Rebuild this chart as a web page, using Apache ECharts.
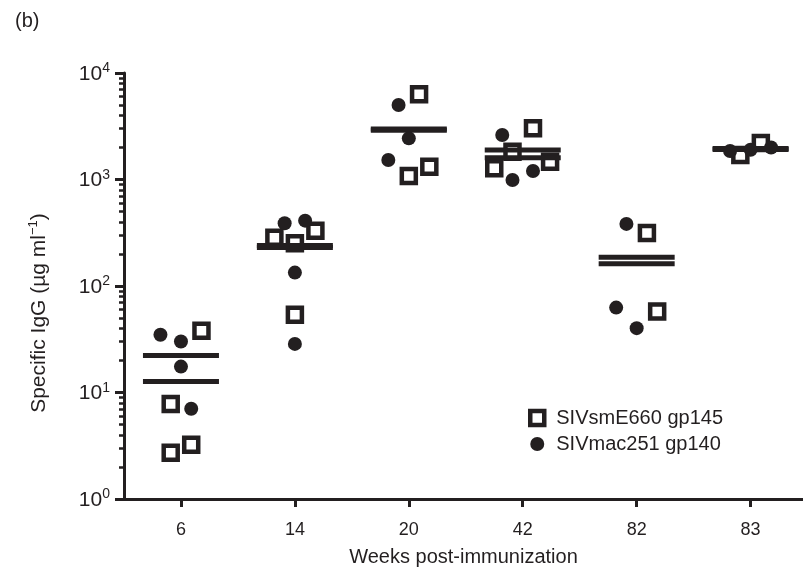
<!DOCTYPE html>
<html>
<head>
<meta charset="UTF-8">
<title>Specific IgG</title>
<script src="https://cdn.jsdelivr.net/npm/echarts@6/dist/echarts.min.js"></script>
<style>
  html, body { margin: 0; padding: 0; background: #fff; }
  #main { width: 803px; height: 575px; }
</style>
</head>
<body>
<div id="main"></div>
<script>
var ink = '#231f20';
var weeks = ['6', '14', '20', '42', '82', '83'];

// SIVsmE660 gp145 (open squares): group index, sideways jitter (in group widths), value
var smGroup  = [0, 0, 0, 0, 1, 1, 1, 1, 2, 2, 2, 3, 3, 3, 3, 4, 4, 5, 5];
var smJitter = [0.18, -0.09, 0.09, -0.09, -0.18, 0, 0.18, 0, 0.09, 0, 0.18, 0.09, -0.09, -0.25, 0.24, 0.09, 0.18, -0.09, 0.09];
var smValue  = [37.9, 7.8, 3.23, 2.72, 284, 252, 331, 53.6, 6300, 1079, 1318, 3022, 1823, 1274, 1469, 315, 57.5, 1700, 2200];

// SIVmac251 gp140 (filled circles)
var macGroup  = [0, 0, 0, 0, 1, 1, 1, 1, 2, 2, 2, 3, 3, 3, 4, 4, 4, 5, 5, 5];
var macJitter = [-0.18, 0, 0, 0.09, -0.09, 0.09, 0, 0, -0.09, 0, -0.18, -0.18, -0.09, 0.09, -0.09, -0.18, 0, -0.18, 0, 0.18];
var macValue  = [34.8, 30.1, 17.5, 7.03, 388, 411, 133.6, 28.6, 5000, 2434, 1524, 2615, 989, 1202, 383, 62.7, 40.2, 1850, 1900, 2000];

// group means (horizontal bars)
var smMean  = [12.7, 230, 2899, 1897, 186, 1950];
var macMean = [22.2, 240, 2986, 1602, 162, 1917];

// minor ticks on the log axis
var minorTicks = [2, 3, 4, 5, 6, 7, 8, 9,
                  20, 30, 40, 50, 60, 70, 80, 90,
                  200, 300, 400, 500, 600, 700, 800, 900,
                  2000, 3000, 4000, 5000, 6000, 7000, 8000, 9000];

function points(g, j, v) {
  return v.map(function (val, i) { return [g[i] + j[i], val]; });
}
function bars(m) {
  return m.map(function (val, i) { return [i, val]; });
}
var groupIdx = weeks.map(function (w, i) { return i; });

var chart = echarts.init(document.getElementById('main'));
chart.setOption({
  animation: false,
  backgroundColor: '#fff',
  textStyle: { fontFamily: 'Liberation Sans', color: ink },
  title: {
    text: '(b)', left: 10, top: 6,
    textStyle: { fontFamily: 'Liberation Sans', fontSize: 20, fontWeight: 'normal', color: ink }
  },
  grid: { left: 124, right: 0, top: 73, bottom: 76 },
  legend: {
    orient: 'vertical', left: 523, top: 403, itemGap: 6,
    itemWidth: 14, itemHeight: 14,
    itemStyle: { borderWidth: 'inherit' },
    textStyle: { fontFamily: 'Liberation Sans', fontSize: 20, color: ink, padding: [0, 0, 0, 7] },
    data: ['SIVsmE660 gp145', 'SIVmac251 gp140']
  },
  xAxis: {
    type: 'value', min: -0.5, max: 5.46,
    name: 'Weeks post-immunization', nameLocation: 'middle', nameGap: 48,
    nameTextStyle: { fontSize: 20, color: ink },
    axisLine: { lineStyle: { color: ink, width: 3 } },
    axisTick: { customValues: groupIdx, length: 8, lineStyle: { color: ink, width: 3 } },
    axisLabel: {
      customValues: groupIdx, margin: 22, fontSize: 18, color: ink,
      formatter: function (v) { return weeks[Math.round(v)]; }
    },
    splitLine: { show: false }
  },
  yAxis: [{
    type: 'log', logBase: 10, min: 1, max: 10000,
    name: '{n|Specific IgG (µg ml}{s|−1}{n|)}', nameLocation: 'middle', nameGap: 74,
    nameTextStyle: {
      padding: [0, 54, 0, 0],
      rich: {
        n: { fontSize: 21, color: ink, lineHeight: 23, verticalAlign: 'bottom' },
        s: { fontSize: 13, color: ink, lineHeight: 13, verticalAlign: 'top' }
      }
    },
    axisLine: { onZero: false, lineStyle: { color: ink, width: 3 } },
    axisTick: { length: 9, lineStyle: { color: ink, width: 3 } },
    axisLabel: {
      margin: 14,
      formatter: function (v) { return '{b|10}{s|' + Math.round(Math.log10(v)) + '}'; },
      rich: {
        b: { fontSize: 21, color: ink, lineHeight: 23, verticalAlign: 'bottom' },
        s: { fontSize: 14, color: ink, lineHeight: 14, verticalAlign: 'top' }
      }
    },
    splitLine: { show: false }
  }, {
    // log-decade minor ticks drawn on a plain axis in log10 units
    type: 'value', min: 0, max: 4, position: 'left',
    axisLine: { show: false, onZero: false },
    axisTick: { customValues: minorTicks.map(Math.log10), length: 5, lineStyle: { color: ink, width: 2.5 } },
    axisLabel: { show: false },
    splitLine: { show: false }
  }],
  series: [{
    name: 'SIVsmE660 gp145', type: 'scatter', symbol: 'rect', symbolSize: 14,
    itemStyle: { color: '#fff', borderColor: ink, borderWidth: 4.5, opacity: 1 },
    data: points(smGroup, smJitter, smValue), z: 3
  }, {
    name: 'SIVmac251 gp140', type: 'scatter', symbol: 'circle', symbolSize: 14,
    itemStyle: { color: ink, opacity: 1 },
    data: points(macGroup, macJitter, macValue), z: 4
  }, {
    name: 'mean sm', type: 'scatter', symbol: 'rect', symbolSize: [76, 5], silent: true,
    itemStyle: { color: ink, opacity: 1 }, data: bars(smMean), z: 5
  }, {
    name: 'mean mac', type: 'scatter', symbol: 'rect', symbolSize: [76, 5], silent: true,
    itemStyle: { color: ink, opacity: 1 }, data: bars(macMean), z: 5
  }]
});
</script>
</body>
</html>
